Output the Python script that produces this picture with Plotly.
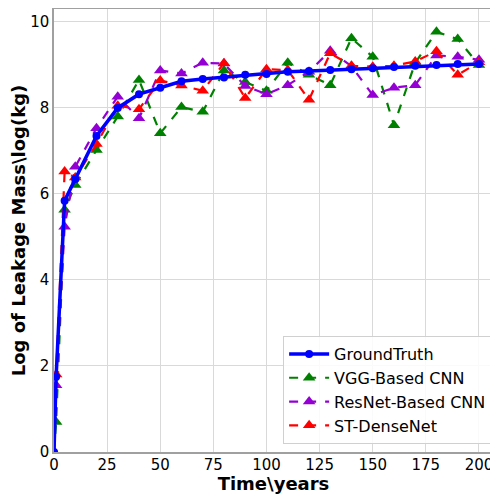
import plotly.graph_objects as go

years = [0, 1, 5, 10, 20, 30, 40, 50, 60, 70, 80, 90, 100, 110, 120, 130, 140, 150, 160, 170, 180, 190, 200]

ground_truth = [0, 1.75, 5.84, 6.35, 7.35, 8.0, 8.32, 8.47, 8.62, 8.67, 8.71, 8.77, 8.79, 8.84, 8.86, 8.88, 8.9, 8.92, 8.95, 8.98, 9.0, 9.02, 9.02]
vgg_cnn = [0, 0.70, 5.63, 6.21, 7.02, 7.80, 8.65, 7.41, 8.02, 7.91, 8.87, 8.60, 8.40, 9.05, 8.77, 8.53, 9.62, 9.19, 7.60, 9.05, 9.77, 9.60, 9.00]
resnet_cnn = [0, 1.55, 5.24, 6.63, 7.53, 8.26, 7.76, 8.87, 8.80, 9.05, 9.03, 8.51, 8.32, 8.53, 8.84, 9.33, 8.97, 8.30, 8.47, 8.53, 9.22, 9.19, 9.12]
st_densenet = [0, 1.80, 6.52, 6.38, 7.16, 8.05, 7.97, 8.64, 8.52, 8.40, 9.04, 8.23, 8.90, 8.88, 8.19, 9.27, 8.98, 8.96, 8.98, 9.08, 9.32, 8.77, 9.06]

series_names = ["GroundTruth", "VGG-Based CNN", "ResNet-Based CNN", "ST-DenseNet"]
x_ticks = [0, 25, 50, 75, 100, 125, 150, 175, 200]
y_ticks = [0, 2, 4, 6, 8, 10]

fig = go.Figure()
styles = [("#008000", vgg_cnn), ("#9400d3", resnet_cnn), ("#ff0000", st_densenet)]
for rank, (name, (col, vals)) in enumerate(zip(series_names[1:], styles), start=2):
    fig.add_trace(go.Scatter(x=years, y=vals, name=name, mode="lines+markers", legendrank=rank,
                             line=dict(color=col, width=2.2, dash="dash"),
                             marker=dict(symbol="triangle-up", size=11, color=col)))
fig.add_trace(go.Scatter(x=years, y=ground_truth, name=series_names[0], mode="lines+markers", legendrank=1,
                         line=dict(color="#0000ff", width=3.5),
                         marker=dict(symbol="circle", size=8, color="#0000ff")))

axis_common = dict(showgrid=True, gridcolor="#d9d9d9", gridwidth=1, showline=True, linecolor="#a0a0a0",
                   linewidth=1.5, mirror=True, ticks="", zeroline=False, automargin=False,
                   tickfont=dict(family="DejaVu Sans", size=15, color="black"))
fig.update_xaxes(range=[0, 206.6], tickvals=x_ticks, ticklabelstandoff=-2,
                 title=dict(text="<b>Time\\years</b>", font=dict(family="DejaVu Sans", size=18, color="black"), standoff=0),
                 **axis_common)
fig.update_yaxes(range=[0, 10.30], tickvals=y_ticks,
                 title=dict(text="<b>Log of Leakage Mass\\log(kg)</b>", font=dict(family="DejaVu Sans", size=18, color="black"), standoff=0),
                 **axis_common)

fig.update_layout(
    width=490, height=486,
    margin=dict(l=46, r=5, t=1, b=42),
    plot_bgcolor="white", paper_bgcolor="white",
    legend=dict(x=0.998, y=0.018, xanchor="right", yanchor="bottom",
                traceorder="normal",
                bgcolor="rgba(255,255,255,0.85)", bordercolor="#d0d0d0", borderwidth=1,
                font=dict(family="DejaVu Sans", size=16, color="black"),
                itemwidth=40, tracegroupgap=0),
    showlegend=True,
)

fig.write_html("out.html")
